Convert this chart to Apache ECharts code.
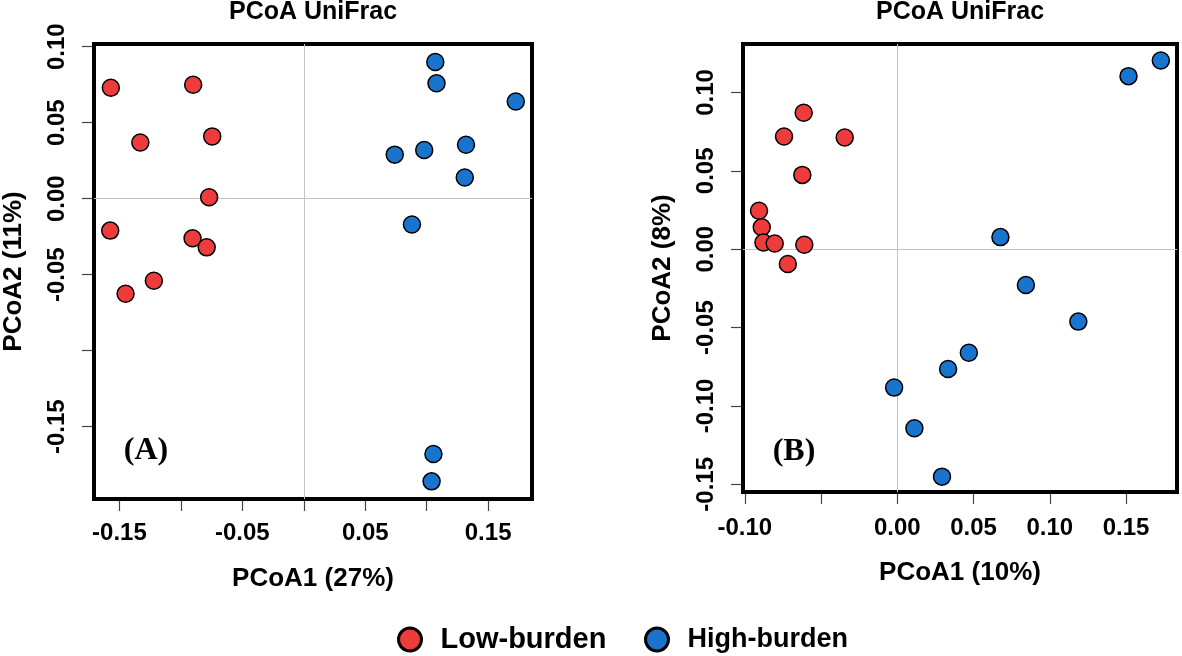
<!DOCTYPE html>
<html>
<head>
<meta charset="utf-8">
<script src="https://cdn.jsdelivr.net/npm/echarts@6/dist/echarts.min.js"></script>
<style>
html,body{margin:0;padding:0;background:#fff;}
#chart{width:1182px;height:656px;}
</style>
</head>
<body>
<div id="chart"></div>
<script>
// ---- Data ----
const seriesNames = ['Low-burden', 'High-burden'];
const colors = ['#EE3B3B', '#1874CD'];

// Panel A (PCoA1 27%, PCoA2 11%)
const aLowX  = [-0.157, -0.090, -0.133, -0.0745, -0.077, -0.1575, -0.0905, -0.079, -0.122, -0.145];
const aLowY  = [0.073, 0.075, 0.037, 0.041, 0.001, -0.021, -0.026, -0.032, -0.054, -0.0625];
const aHighX = [0.107, 0.108, 0.1725, 0.074, 0.098, 0.132, 0.131, 0.088, 0.1055, 0.104];
const aHighY = [0.090, 0.076, 0.064, 0.029, 0.032, 0.0355, 0.014, -0.017, -0.168, -0.186];

// Panel B (PCoA1 10%, PCoA2 8%)
const bLowX  = [-0.0614, -0.0743, -0.0345, -0.0623, -0.0907, -0.0889, -0.0878, -0.0804, -0.0610, -0.0718];
const bLowY  = [0.0870, 0.0719, 0.0713, 0.0474, 0.0245, 0.0140, 0.0043, 0.0036, 0.0028, -0.0094];
const bHighX = [0.1728, 0.1516, 0.0676, 0.0843, 0.1187, 0.0469, 0.0333, -0.0021, 0.0112, 0.0293];
const bHighY = [0.1204, 0.1104, 0.0077, -0.0228, -0.0462, -0.0661, -0.0764, -0.0883, -0.1142, -0.1451];

// Ticks and labels
const aXTicks  = [-0.15, -0.10, -0.05, 0.00, 0.05, 0.10, 0.15];
const aXLabels = [-0.15, -0.05, 0.05, 0.15];
const aYTicks  = [-0.15, -0.10, -0.05, 0.00, 0.05, 0.10];
const aYLabels = [-0.15, -0.05, 0.00, 0.05, 0.10];
const bXTicks  = [-0.10, -0.05, 0.00, 0.05, 0.10, 0.15];
const bXLabels = [-0.10, 0.00, 0.05, 0.10, 0.15];
const bYTicks  = [-0.15, -0.10, -0.05, 0.00, 0.05, 0.10];
const bYLabels = [-0.15, -0.10, -0.05, 0.00, 0.05, 0.10];

const titles = ['PCoA UniFrac', 'PCoA UniFrac'];
const xNames = ['PCoA1 (27%)', 'PCoA1 (10%)'];
const yNames = ['PCoA2 (11%)', 'PCoA2 (8%)'];
const panelTags = ['(A)', '(B)'];

// ---- Build ----
const zip = (xs, ys) => xs.map((x, i) => [x, ys[i]]);
const SANS = '"Liberation Sans", Arial, Helvetica, sans-serif';
const fmt = v => (Math.abs(v) < 1e-9 ? 0 : v).toFixed(2);

function xAxisCfg(gi, min, max, ticks, labels, name, margin, nameGap) {
  return {
    type: 'value', gridIndex: gi, min: min, max: max, name: name, position: 'bottom',
    nameLocation: 'middle', nameGap: nameGap,
    nameTextStyle: {fontFamily: SANS, fontWeight: 'bold', fontSize: 26, color: '#000'},
    axisLine: {show: false, onZero: false},
    axisTick: {show: true, inside: false, length: 12, customValues: ticks, lineStyle: {color: '#444', width: 1.2}},
    axisLabel: {show: true, customValues: labels, formatter: fmt, margin: margin,
      fontFamily: SANS, fontWeight: 'bold', fontSize: 24, color: '#000'},
    splitLine: {show: false}
  };
}
function yAxisCfg(gi, min, max, ticks, labels, name, margin, nameGap) {
  return {
    type: 'value', gridIndex: gi, min: min, max: max, name: name, position: 'left',
    nameLocation: 'middle', nameGap: nameGap, nameRotate: 90,
    nameTextStyle: {fontFamily: SANS, fontWeight: 'bold', fontSize: 26, color: '#000'},
    axisLine: {show: false, onZero: false},
    axisTick: {show: true, inside: false, length: 12, customValues: ticks, lineStyle: {color: '#444', width: 1.2}},
    axisLabel: {show: true, customValues: labels, formatter: fmt, margin: margin, rotate: 90,
      fontFamily: SANS, fontWeight: 'bold', fontSize: 24, color: '#000'},
    splitLine: {show: false}
  };
}
function scatter(gi, name, color, data) {
  return {
    type: 'scatter', name: name, xAxisIndex: gi, yAxisIndex: gi, data: data,
    symbol: 'circle', symbolSize: 17, z: 5,
    itemStyle: {color: color, borderColor: '#000', borderWidth: 1.5, opacity: 1},
    emphasis: {disabled: true}
  };
}
function zeroLines(gi) {
  return {
    type: 'line', name: 'zero' + gi, xAxisIndex: gi, yAxisIndex: gi, data: [], z: 1,
    markLine: {silent: true, symbol: 'none', label: {show: false}, animation: false,
      lineStyle: {color: '#c4c4c4', width: 1, type: 'solid'},
      data: [{xAxis: 0}, {yAxis: 0}]}
  };
}

const option = {
  animation: false,
  backgroundColor: '#fff',
  grid: [
    {left: 94, right: 650, top: 44, bottom: 157, show: true, borderColor: '#000', borderWidth: 4, backgroundColor: 'transparent', z: 4},
    {left: 743, right: 5, top: 44, bottom: 164, show: true, borderColor: '#000', borderWidth: 4, backgroundColor: 'transparent', z: 4}
  ],
  xAxis: [
    xAxisCfg(0, -0.1707, 0.1857, aXTicks, aXLabels, xNames[0], 22, 67),
    xAxisCfg(1, -0.1012, 0.1834, bXTicks, bXLabels, xNames[1], 24, 68)
  ],
  yAxis: [
    yAxisCfg(0, -0.1976, 0.1018, aYTicks, aYLabels, yNames[0], 25, 67),
    yAxisCfg(1, -0.1549, 0.1309, bYTicks, bYLabels, yNames[1], 25, 67)
  ],
  legend: [
    {data: [seriesNames[0]], left: 392, top: 620, icon: 'circle', itemWidth: 51, itemHeight: 23,
     itemStyle: {borderColor: '#000', borderWidth: 3},
     textStyle: {fontFamily: SANS, fontWeight: 'bold', fontSize: 29, color: '#000'}, selectedMode: false},
    {data: [seriesNames[1]], left: 639, top: 621, icon: 'circle', itemWidth: 51, itemHeight: 23,
     itemStyle: {borderColor: '#000', borderWidth: 3},
     textStyle: {fontFamily: SANS, fontWeight: 'bold', fontSize: 27, color: '#000'}, selectedMode: false}
  ],
  graphic: [
    {type: 'text', x: 313, y: 12, style: {text: titles[0], font: 'bold 25px ' + SANS, fill: '#000', textAlign: 'center', textVerticalAlign: 'middle'}},
    {type: 'text', x: 960, y: 12, style: {text: titles[1], font: 'bold 25px ' + SANS, fill: '#000', textAlign: 'center', textVerticalAlign: 'middle'}},
    {type: 'text', x: 146, y: 451, z: 10, style: {text: panelTags[0], font: 'bold 32px "Liberation Serif", "Times New Roman", serif', fill: '#000', textAlign: 'center', textVerticalAlign: 'middle'}},
    {type: 'text', x: 794, y: 452, z: 10, style: {text: panelTags[1], font: 'bold 32px "Liberation Serif", "Times New Roman", serif', fill: '#000', textAlign: 'center', textVerticalAlign: 'middle'}}
  ],
  series: [
    zeroLines(0),
    zeroLines(1),
    scatter(0, seriesNames[0], colors[0], zip(aLowX, aLowY)),
    scatter(0, seriesNames[1], colors[1], zip(aHighX, aHighY)),
    scatter(1, seriesNames[0], colors[0], zip(bLowX, bLowY)),
    scatter(1, seriesNames[1], colors[1], zip(bHighX, bHighY))
  ]
};

const chart = echarts.init(document.getElementById('chart'), null, {renderer: 'canvas'});
chart.setOption(option);
</script>
</body>
</html>
